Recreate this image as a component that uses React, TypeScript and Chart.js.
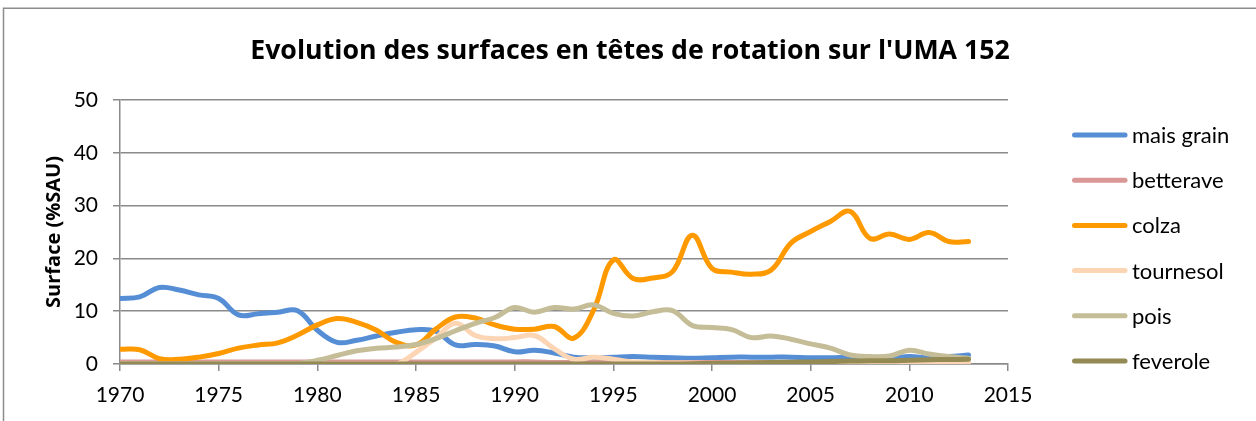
import React, { useEffect, useRef } from "react";
import { Chart, registerables } from "chart.js";

Chart.register(...registerables);

const chartTitle = "Evolution des surfaces en têtes de rotation sur l'UMA 152";
const yAxisTitle = "Surface (%SAU)";

const years = [
  1970, 1971, 1972, 1973, 1974, 1975, 1976, 1977, 1978, 1979,
  1980, 1981, 1982, 1983, 1984, 1985, 1986, 1987, 1988, 1989,
  1990, 1991, 1992, 1993, 1994, 1995, 1996, 1997, 1998, 1999,
  2000, 2001, 2002, 2003, 2004, 2005, 2006, 2007, 2008, 2009,
  2010, 2011, 2012, 2013,
];

const xTickValues = [1970, 1975, 1980, 1985, 1990, 1995, 2000, 2005, 2010, 2015];
const yTickValues = [0, 10, 20, 30, 40, 50];

const seriesNames = ["mais grain", "betterave", "colza", "tournesol", "pois", "feverole"];

const maisGrain = [
  12.4, 12.7, 14.5, 14.0, 13.1, 12.4, 9.3, 9.5, 9.8, 10.1,
  6.4, 4.1, 4.5, 5.3, 6.0, 6.5, 6.2, 3.6, 3.7, 3.4,
  2.3, 2.6, 2.1, 1.3, 1.2, 1.3, 1.4, 1.3, 1.2, 1.1,
  1.2, 1.3, 1.3, 1.3, 1.3, 1.2, 1.2, 1.3, 1.2, 1.1,
  1.4, 1.2, 1.4, 1.7,
];

const betterave = [
  0.4, 0.4, 0.4, 0.4, 0.4, 0.4, 0.4, 0.4, 0.4, 0.4,
  0.4, 0.4, 0.4, 0.4, 0.4, 0.4, 0.4, 0.4, 0.4, 0.4,
  0.4, 0.4, 0.3, 0.3, 0.3, 0.3, 0.3, 0.3, 0.3, 0.3,
  0.3, 0.3, 0.3, 0.3, 0.3, 0.3, 0.3, 0.3, 0.3, 0.3,
  0.3, 0.3, 0.3, 0.3,
];

const colza = [
  2.8, 2.7, 1.0, 0.9, 1.3, 2.0, 3.0, 3.6, 4.0, 5.5,
  7.4, 8.6, 7.9, 6.4, 4.1, 3.6, 6.6, 8.9, 8.7, 7.4,
  6.6, 6.6, 7.1, 4.9, 10.2, 19.7, 16.2, 16.3, 17.5, 24.4,
  18.1, 17.4, 17.0, 17.8, 22.9, 25.1, 27.0, 28.9, 23.8, 24.6,
  23.6, 24.9, 23.2, 23.2,
];

const tournesol = [
  0, 0, 0, 0, 0, 0, 0, 0, 0, 0,
  0, 0, 0, 0, 0, 2.2, 4.9, 7.7, 5.4, 4.8,
  5.0, 5.4, 2.9, 0.9, 1.3, 0.9, 0.4, 0.3, 0.2, 0.2,
  0.1, 0.1, 0.1, 0.1, 0.1, 0.1, 0.1, 0.1, 0.1, 0.1,
  0.1, 0.1, 0.1, 0.2,
];

const pois = [
  0, 0, 0, 0, 0, 0, 0, 0, 0, 0.1,
  0.7, 1.6, 2.5, 3.0, 3.2, 3.7, 4.8, 6.3, 7.7, 8.8,
  10.7, 9.8, 10.7, 10.4, 11.2, 9.6, 9.1, 9.9, 10.1, 7.3,
  6.9, 6.5, 5.0, 5.3, 4.7, 3.8, 3.0, 1.7, 1.4, 1.5,
  2.6, 1.9, 1.4, 1.1,
];

const feverole = [
  0, 0, 0, 0, 0, 0, 0, 0, 0, 0,
  0, 0, 0, 0, 0, 0, 0, 0, 0, 0,
  0, 0, 0, 0, 0, 0, 0, 0, 0, 0.05,
  0.1, 0.15, 0.2, 0.3, 0.35, 0.4, 0.45, 0.55, 0.6, 0.6,
  0.7, 0.8, 0.85, 0.9,
];

const seriesValues = [maisGrain, betterave, colza, tournesol, pois, feverole];
const seriesColors = ["#558ED5", "#D99795", "#FF9900", "#FCD5B5", "#C4BD97", "#948A54"];

const FONT = "Lato, 'Open Sans', 'Noto Sans', sans-serif";
const BOLD_FONT = "'Open Sans', 'Noto Sans', sans-serif";
const GRID = "#8a8a8a";

function fitSize(text: string, family: string, target: number): number {
  const c = document.createElement("canvas").getContext("2d");
  if (!c) return 22;
  c.font = `bold 100px ${family}`;
  const w = c.measureText(text).width;
  return w > 0 ? (100 * target) / w : 22;
}

const frame = {
  id: "frame",
  beforeDraw(chart: any) {
    const ctx = chart.ctx;
    ctx.save();
    ctx.fillStyle = "#ffffff";
    ctx.fillRect(0, 0, chart.width, chart.height);
    ctx.strokeStyle = "#8c8c8c";
    ctx.lineWidth = 1.5;
    ctx.strokeRect(3.5, 8.25, chart.width + 20, chart.height + 20);
    ctx.restore();
  },
};

const titleText = {
  id: "titleText",
  afterDraw(chart: any, _args: any, opts: any) {
    const ctx = chart.ctx;
    ctx.save();
    ctx.fillStyle = "#000";
    ctx.font = `bold ${opts.size}px ${BOLD_FONT}`;
    ctx.textAlign = "center";
    ctx.textBaseline = "alphabetic";
    ctx.fillText(chartTitle, 630, 58.5);
    ctx.restore();
  },
};

const sideLegend = {
  id: "sideLegend",
  afterDraw(chart: any) {
    const ctx = chart.ctx;
    ctx.save();
    chart.data.datasets.forEach((ds: any, i: number) => {
      const y = 135 + i * 45.2;
      ctx.strokeStyle = ds.borderColor;
      ctx.lineWidth = 5;
      ctx.lineCap = "round";
      ctx.beginPath();
      ctx.moveTo(1074.5, y);
      ctx.lineTo(1125, y);
      ctx.stroke();
      ctx.fillStyle = "#000";
      ctx.font = `22px ${FONT}`;
      ctx.textBaseline = "middle";
      ctx.textAlign = "left";
      ctx.fillText(ds.label, 1132, y + 1);
    });
    ctx.restore();
  },
};

export default function App() {
  const ref = useRef<HTMLCanvasElement | null>(null);

  useEffect(() => {
    document.body.style.margin = "0";
    document.body.style.overflow = "hidden";
    if (!ref.current) return;
    const n = seriesNames.length;
    const titleSize = fitSize(chartTitle, BOLD_FONT, 760);
    const yTitleSize = fitSize(yAxisTitle, BOLD_FONT, 152);
    const chart = new Chart(ref.current, {
      type: "line",
      data: {
        datasets: seriesNames.map((name, i) => ({
          label: name,
          data: years.map((yr, k) => ({ x: yr, y: seriesValues[i][k] })),
          borderColor: seriesColors[i],
          backgroundColor: seriesColors[i],
          borderWidth: 5,
          pointRadius: 0,
          pointHoverRadius: 0,
          tension: 0.4,
          fill: false,
          borderCapStyle: "round",
          borderJoinStyle: "round",
          order: n - 1 - i,
        })),
      },
      options: {
        animation: false,
        responsive: false,
        maintainAspectRatio: false,
        events: [],
        layout: { padding: { left: 0, top: 100, right: 248, bottom: 0 } },
        plugins: {
          legend: { display: false },
          tooltip: { enabled: false },
          title: { display: false },
          titleText: { size: titleSize },
        } as any,
        scales: {
          x: {
            type: "linear",
            min: 1970,
            max: 2015,
            afterBuildTicks: (scale: any) => {
              scale.ticks = xTickValues.map((v) => ({ value: v }));
            },
            afterFit: (scale: any) => {
              scale.height = 57;
            },
            grid: {
              display: true,
              drawOnChartArea: false,
              drawTicks: true,
              tickLength: 7,
              color: GRID,
              lineWidth: 1.5,
            },
            border: { display: true, color: GRID, width: 1.5 },
            ticks: {
              autoSkip: false,
              maxRotation: 0,
              padding: 12,
              color: "#000",
              font: { family: FONT, size: 21 },
              callback: (v: any) => String(v),
            },
          },
          y: {
            type: "linear",
            min: 0,
            max: 50,
            afterBuildTicks: (scale: any) => {
              scale.ticks = yTickValues.map((v) => ({ value: v }));
            },
            afterFit: (scale: any) => {
              scale.width = 120;
            },
            grid: {
              display: true,
              drawTicks: true,
              tickLength: 7,
              color: GRID,
              lineWidth: 1.5,
            },
            border: { display: true, color: GRID, width: 1.5 },
            ticks: {
              padding: 15,
              color: "#000",
              font: { family: FONT, size: 21 },
            },
            title: {
              display: true,
              text: yAxisTitle,
              color: "#000",
              font: { family: BOLD_FONT, size: yTitleSize, weight: "bold", lineHeight: 1.2 },
              padding: { top: 54 - 0.6 * yTitleSize, bottom: 0 },
            },
          },
        },
      },
      plugins: [frame, titleText, sideLegend],
    });
    return () => chart.destroy();
  }, []);

  return (
    <div style={{ position: "fixed", left: 0, top: 0, width: 1256, height: 421 }}>
      <canvas ref={ref} width={1256} height={421} style={{ display: "block" }} />
    </div>
  );
}
